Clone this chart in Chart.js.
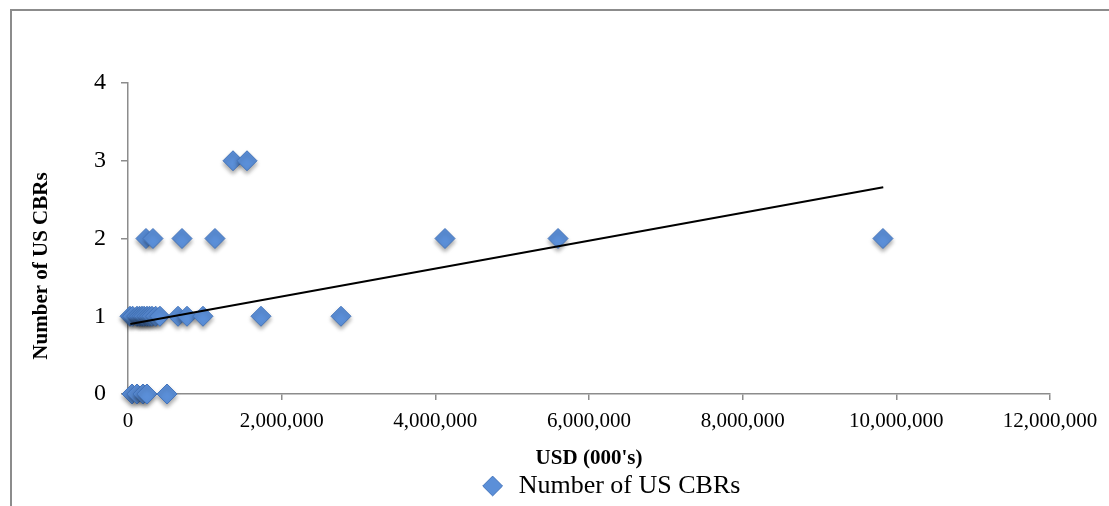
<!DOCTYPE html>
<meta charset="utf-8">
<html>
  <head>
    <script src="https://cdn.jsdelivr.net/npm/chart.js"></script>
    <style>
      body { margin: 0; background: #fff; }
      #frame {
        position: absolute; left: 10px; top: 9px; width: 1120px; height: 520px;
        border-left: 2px solid #8c8c8c; border-top: 2px solid #8c8c8c;
      }
      #wrap { position: absolute; left: 0; top: 0; width: 1109px; height: 506px; }
    </style>
  </head>
  <body>
    <div id="frame"></div>
    <div id="wrap">
      <canvas id="chart" width="1109" height="506"></canvas>
    </div>
  </body>

  <script>
    // USD (000's) and number of US CBRs
    const usd = [
      1367000, 1549000,
      234000, 325000, 703000, 1132000, 4126000, 5597000, 9826000,
      26000, 60000, 117000, 150000, 182000, 210000, 247000, 280000, 312000, 360000, 416000, 651000, 768000, 976000, 1731000, 2772000,
      52000, 117000, 195000, 247000, 508000
    ];
    const cbrs = [
      3, 3,
      2, 2, 2, 2, 2, 2, 2,
      1, 1, 1, 1, 1, 1, 1, 1, 1, 1, 1, 1, 1, 1, 1, 1,
      0, 0, 0, 0, 0
    ];
    // linear trend line end points
    const trendX = [30000, 9830000];
    const trendY = [0.9, 2.66];

    const xTicks = [0, 2000000, 4000000, 6000000, 8000000, 10000000, 12000000];
    const yTicks = [0, 1, 2, 3, 4];

    const serif = "'Liberation Serif', 'Times New Roman', serif";

    let points = usd.map(function(v, i) { return { x: v, y: cbrs[i] }; });
    let trend = trendX.map(function(v, i) { return { x: v, y: trendY[i] }; });

    // soft drop shadow under the markers
    const shadowPlugin = {
      id: 'markerShadow',
      beforeDatasetDraw(chart, args) {
        if (args.index === 0) {
          chart.ctx.save();
          chart.ctx.shadowColor = 'rgba(0,0,0,0.35)';
          chart.ctx.shadowBlur = 4;
          chart.ctx.shadowOffsetY = 3;
        }
      },
      afterDatasetDraw(chart, args) {
        if (args.index === 0) chart.ctx.restore();
      }
    };

    // legend sits a bit right of centre, y title a bit below centre (as in the original)
    const placePlugin = {
      id: 'place',
      afterLayout(chart) {
        chart.legend.left += 70;
        chart.legend.right += 70;
        chart.legend.top += 3;
        chart.legend.bottom += 3;
      },
      afterDraw(chart) {
        const ctx = chart.ctx;
        ctx.save();
        ctx.translate(42, 266);
        ctx.rotate(-Math.PI / 2);
        ctx.font = 'bold 21px ' + serif;
        ctx.fillStyle = '#000';
        ctx.textAlign = 'center';
        ctx.textBaseline = 'middle';
        ctx.fillText('Number of US CBRs', 0, 0);
        ctx.restore();
      }
    };

    let config = {
      type: 'scatter',
      data: {
        datasets: [
          {
            label: 'Number of US CBRs',
            data: points,
            pointStyle: 'rectRot',
            pointRadius: 10,
            backgroundColor: '#5b8fd8',
            borderColor: '#4474bb',
            borderWidth: 1,
            clip: false,
            order: 2
          },
          {
            label: 'trend',
            type: 'line',
            data: trend,
            borderColor: '#000',
            borderWidth: 2,
            pointRadius: 0,
            fill: false,
            order: 1
          }
        ]
      },
      plugins: [shadowPlugin, placePlugin],
      options: {
        responsive: false,
        animation: false,
        layout: { padding: { left: 30, top: 83, right: 59, bottom: 0 } },
        plugins: {
          tooltip: { enabled: false },
          legend: {
            position: 'bottom',
            labels: {
              usePointStyle: true,
              pointStyle: 'rectRot',
              boxWidth: 26,
              boxHeight: 14,
              padding: 4,
              color: '#000',
              font: { family: serif, size: 26 },
              filter: function(item) { return item.datasetIndex === 0; }
            }
          }
        },
        scales: {
          x: {
            type: 'linear',
            min: 0,
            max: 12000000,
            afterBuildTicks: function(scale) { scale.ticks = xTicks.map(function(v) { return { value: v }; }); },
            afterFit: function(scale) { scale.height = 72; },
            ticks: {
              color: '#000',
              padding: 9,
              maxRotation: 0,
              font: { family: serif, size: 21 },
              callback: function(v) { return Number(v).toLocaleString('en-US'); }
            },
            grid: { drawOnChartArea: false, tickLength: 6, color: '#8c8c8c', lineWidth: 1.5 },
            border: { color: '#8c8c8c', width: 1.5 },
            title: {
              display: true,
              text: "USD (000's)",
              color: '#000',
              padding: { top: 0, bottom: -5 },
              font: { family: serif, size: 21, weight: 'bold' }
            }
          },
          y: {
            type: 'linear',
            min: 0,
            max: 4,
            afterBuildTicks: function(scale) { scale.ticks = yTicks.map(function(v) { return { value: v }; }); },
            afterFit: function(scale) { scale.width = 98; },
            ticks: {
              color: '#000',
              padding: 15,
              font: { family: serif, size: 24 }
            },
            grid: { drawOnChartArea: false, tickLength: 7, color: '#8c8c8c', lineWidth: 1.5 },
            border: { color: '#8c8c8c', width: 1.5 },
            title: { display: false }
          }
        }
      }
    };

    let chart = new Chart(document.getElementById('chart'), config);
  </script>
</html>
